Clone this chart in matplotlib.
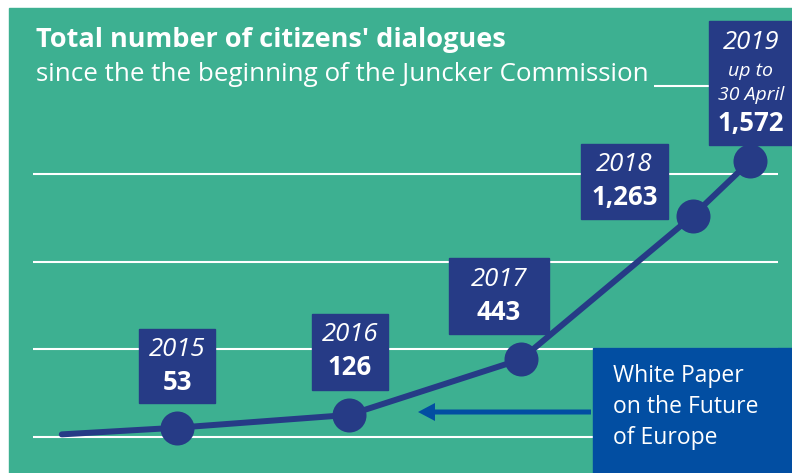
import matplotlib.pyplot as plt
from matplotlib.patches import Rectangle, FancyArrow
from matplotlib.transforms import IdentityTransform

# cumulative number of citizens' dialogues (x = end of period, in years)
dates = [2015.33, 2016, 2017, 2018, 2019, 2019.33]
totals = [15, 53, 126, 443, 1263, 1572]
year_labels = ['2015', '2016', '2017', '2018', '2019']
value_labels = ['53', '126', '443', '1,263', '1,572']
grid_values = [0, 500, 1000, 1500, 2000]

green = '#3db091'
navy = '#263b86'
blue = '#024ea2'
W, H = 792, 473

plt.rcParams['font.family'] = ['Open Sans', 'DejaVu Sans']

fig = plt.figure(figsize=(W / 100, H / 100), dpi=100)
fig.patch.set_facecolor('white')
fig.add_artist(Rectangle((9 / W, 0), 1, 1 - 8 / H, transform=fig.transFigure,
                         color=green, zorder=0))

ax = fig.add_axes([0, 0, 1, 1])
ax.set_facecolor('none')
ax.axis('off')
# 172 px per year, 0.1753 px per dialogue, baseline at 437 px from top
ax.set_xlim(2016 - 177 / 172, 2016 + (W - 177) / 172)
ax.set_ylim(-(H - 437) / 0.1753, 437 / 0.1753)

ax.hlines(grid_values, 2016 - 144 / 172, 2016 + 601 / 172, color='white', lw=1.5, zorder=1)
ax.plot(dates, totals, color=navy, lw=4.3, solid_capstyle='round', zorder=3)
ax.scatter(dates[1:], totals[1:], s=600, color=navy, zorder=4, linewidths=0)

ident = IdentityTransform()


def ftext(x, y, s, **kw):
    # x, y in pixels from the top-left corner
    fig.text(x, H - y, s, transform=ident, color='white', **kw)


# title
ftext(36, 40, "Total number of citizens' dialogues", fontsize=19.5, fontweight='bold',
      va='center')
ftext(36, 74, 'since the the beginning of the Juncker Commission', fontsize=18.7,
      va='center', bbox=dict(boxstyle='square,pad=0.2', fc=green, ec='none'))

# label boxes: (dx to box left, gap above the point, width, height) in px
box_specs = [(-38, 25, 76, 74), (-37, 25, 76, 76), (-72, 25, 100, 76),
             (-112, -3, 87, 75), (-41, 16, 90, 124)]
fig.canvas.draw()
for i, (dx, gap, bw, bh) in enumerate(box_specs):
    px, py = ax.transData.transform((dates[i + 1], totals[i + 1]))
    left = px + dx
    bottom = py + gap
    fig.add_artist(Rectangle((left, bottom), bw, bh, transform=ident,
                             color=navy, zorder=5))
    cx = left + (bw / 2 if i < 4 else 42)
    top = H - (bottom + bh)
    ftext(cx, top + 21, year_labels[i], fontsize=18.5, style='italic', ha='center',
          va='center', zorder=6)
    if i < 4:
        ftext(cx, top + 54, value_labels[i], fontsize=18.5, fontweight='bold',
              ha='center', va='center', zorder=6)
    else:
        ftext(cx, top + 50, 'up to', fontsize=14, style='italic', ha='center',
              va='center', zorder=6)
        ftext(cx, top + 74, '30 April', fontsize=14, style='italic', ha='center',
              va='center', zorder=6)
        ftext(cx, top + 102, value_labels[i], fontsize=18.5, fontweight='bold',
              ha='center', va='center', zorder=6)

# White Paper note
fig.add_artist(Rectangle((593, 0), W - 593, H - 348, transform=ident, color=blue,
                         zorder=5))
for j, line in enumerate(['White Paper', 'on the Future', 'of Europe']):
    ftext(613, 376 + 31 * j, line, fontsize=16.5, va='center', zorder=6)
fig.add_artist(FancyArrow(591, H - 412, -156, 0, width=5, head_width=18,
                          head_length=17, length_includes_head=False,
                          transform=ident, color=blue, lw=0, zorder=5))

plt.savefig('out.png', dpi=100)
